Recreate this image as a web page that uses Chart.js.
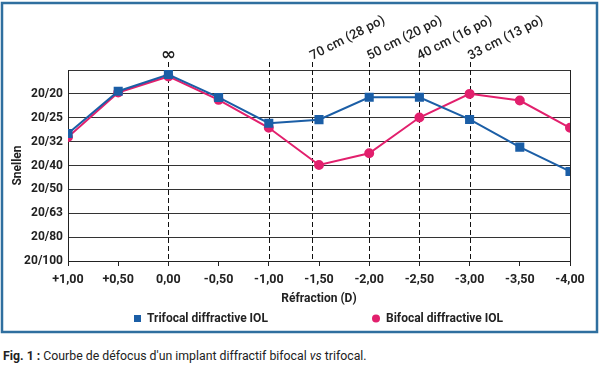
<!DOCTYPE html>
<html>
<head>
<meta charset="utf-8">
<script src="https://cdn.jsdelivr.net/npm/chart.js@4"></script>
<style>
  body { margin: 0; background: #fff; }
  #zone { position: relative; width: 600px; height: 366px; overflow: hidden; }
  #graphe { position: absolute; left: 0; top: 0; }
  #legende {
    position: absolute; left: 3px; top: 349px;
    font: 12.3px Roboto, sans-serif; color: #222; white-space: nowrap;
  }
  #legende b { font-weight: 700; }
</style>
</head>
<body>
<div id="zone">
  <canvas id="graphe" width="600" height="336"></canvas>
  <div id="legende"><b>Fig. 1 :</b> Courbe de défocus d'un implant diffractif bifocal <i>vs</i> trifocal.</div>
</div>
<script>
// Défocus (D), de +1,00 à -4,00
const dioptries = [1, 0.5, 0, -0.5, -1, -1.5, -2, -2.5, -3, -3.5, -4];
const etiquettesX = ['+1,00', '+0,50', '0,00', '-0,50', '-1,00', '-1,50', '-2,00', '-2,50', '-3,00', '-3,50', '-4,00'];

// Échelle de Snellen : rang 0 = 20/100 ... rang 7 = 20/20
const snellen = ['20/100', '20/80', '20/63', '20/50', '20/40', '20/32', '20/25', '20/20'];

// Acuité (en rangs de l'échelle)
const trifocal = [5.34, 7.11, 7.81, 6.85, 5.77, 5.92, 6.86, 6.86, 5.93, 4.77, 3.75];
const bifocal = [5.19, 7.06, 7.73, 6.75, 5.58, 4.02, 4.51, 6.01, 7.0, 6.72, 5.58];

// Distances de lecture repérées en pointillés
const reperes = [0, -1, -1.43, -2, -2.5, -3];
const reperesTexte = ['∞', '', '70 cm (28 po)', '50 cm (20 po)', '40 cm (16 po)', '33 cm (13 po)'];

const bleu = '#1b5ea6';
const rose = '#e2206d';
const police = 'Roboto';

// Cadre bleu autour de la figure
const cadre = {
  id: 'cadre',
  beforeDraw(chart) {
    const ctx = chart.ctx;
    ctx.save();
    ctx.strokeStyle = '#2f6f9f';
    ctx.lineWidth = 2.5;
    ctx.strokeRect(2, 3, 595, 329);
    ctx.restore();
  }
};

// Lignes pointillées et distances
const distances = {
  id: 'distances',
  beforeDatasetsDraw(chart) {
    const ctx = chart.ctx;
    const x = chart.scales.x;
    const bas = chart.chartArea.bottom;
    ctx.save();
    reperes.forEach((d, i) => {
      const px = Math.round(x.getPixelForValue(d)) + 0.5;
      ctx.strokeStyle = '#111';
      ctx.lineWidth = 1;
      ctx.setLineDash([5, 3]);
      ctx.beginPath();
      ctx.moveTo(px, 62);
      ctx.lineTo(px, bas);
      ctx.stroke();
      ctx.setLineDash([]);
      const txt = reperesTexte[i];
      if (!txt) return;
      ctx.fillStyle = '#222';
      if (txt === '∞') {
        ctx.font = 'bold 18px "DejaVu Sans", sans-serif';
        ctx.textAlign = 'center';
        ctx.textBaseline = 'middle';
        ctx.fillText(txt, px, 55);
      } else {
        ctx.translate(px, 60);
        ctx.rotate(-27 * Math.PI / 180);
        ctx.font = '500 13px ' + police;
        ctx.letterSpacing = '0.1px';
        ctx.textAlign = 'left';
        ctx.textBaseline = 'alphabetic';
        ctx.fillText(txt, 0, 0);
        ctx.letterSpacing = '0px';
        ctx.setTransform(1, 0, 0, 1, 0, 0);
      }
    });
    ctx.restore();
  }
};

// Légende en bas du graphique
const legendeSeries = {
  id: 'legendeSeries',
  afterDraw(chart) {
    const ctx = chart.ctx;
    const y = 318.5;
    ctx.save();
    ctx.font = 'bold 12px ' + police;
    ctx.textBaseline = 'middle';
    ctx.textAlign = 'left';
    const ds = chart.data.datasets;
    ctx.fillStyle = ds[0].borderColor;
    ctx.fillRect(134, y - 3.5, 7, 7);
    ctx.fillStyle = '#222';
    ctx.fillText(ds[0].label, 147, y);
    ctx.fillStyle = ds[1].borderColor;
    ctx.beginPath();
    ctx.arc(376, y, 4, 0, Math.PI * 2);
    ctx.fill();
    ctx.fillStyle = '#222';
    ctx.fillText(ds[1].label, 386, y);
    ctx.restore();
  }
};

new Chart(document.getElementById('graphe'), {
  type: 'line',
  data: {
    datasets: [
      {
        label: 'Trifocal diffractive IOL',
        data: dioptries.map((d, i) => ({ x: d, y: trifocal[i] })),
        borderColor: bleu,
        backgroundColor: bleu,
        borderWidth: 2,
        pointStyle: 'rect',
        pointRadius: 5,
        tension: 0
      },
      {
        label: 'Bifocal diffractive IOL',
        data: dioptries.map((d, i) => ({ x: d, y: bifocal[i] })),
        borderColor: rose,
        backgroundColor: rose,
        borderWidth: 2,
        pointStyle: 'circle',
        pointRadius: 4,
        tension: 0
      }
    ]
  },
  options: {
    responsive: false,
    animation: false,
    events: [],
    layout: { padding: { top: 70, right: 30, left: 0, bottom: 27 } },
    plugins: {
      legend: { display: false },
      tooltip: { enabled: false }
    },
    scales: {
      x: {
        type: 'linear',
        reverse: true,
        min: -4,
        max: 1,
        afterFit: (s) => { s.height = 48; },
        ticks: {
          stepSize: 0.5,
          padding: 6,
          color: '#222',
          font: { family: police, weight: 'bold', size: 12.5 },
          maxRotation: 0,
          callback: (v) => {
            const i = dioptries.findIndex(d => Math.abs(d - v) < 1e-6);
            return i >= 0 ? etiquettesX[i] : '';
          }
        },
        grid: {
          color: (c) => (c.tick && Math.abs(c.tick.value + 4) < 1e-6) ? '#222' : 'rgba(0,0,0,0)',
          tickColor: '#222',
          tickLength: 5,
          lineWidth: 1
        },
        border: { display: true, color: '#222', width: 1 },
        title: {
          display: true,
          text: 'Réfraction (D)',
          color: '#222',
          font: { family: police, weight: 'bold', size: 12 },
          padding: { top: 0, bottom: 3 }
        }
      },
      y: {
        min: 0,
        max: 8,
        afterFit: (s) => { s.width = 68; },
        ticks: {
          stepSize: 1,
          padding: 5,
          color: '#222',
          font: { family: police, weight: 'bold', size: 12 },
          callback: (v) => snellen[v] || ''
        },
        grid: { color: '#333', lineWidth: 1, drawTicks: false },
        border: { display: true, color: '#222', width: 1 },
        title: {
          display: true,
          text: 'Snellen',
          color: '#222',
          font: { family: police, weight: 'bold', size: 12 },
          padding: { top: 11, bottom: 0 }
        }
      }
    }
  },
  plugins: [cadre, distances, legendeSeries]
});
</script>
</body>
</html>
